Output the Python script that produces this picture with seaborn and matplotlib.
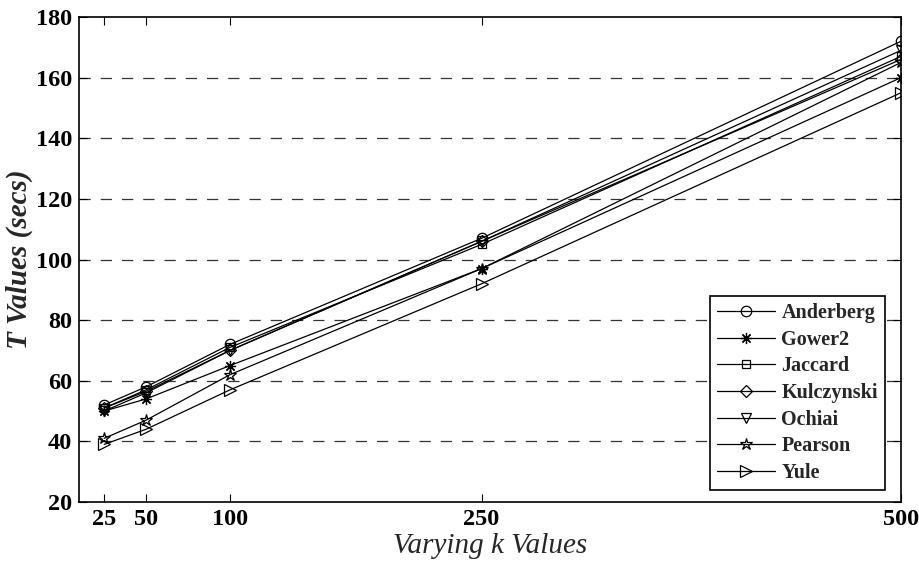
import matplotlib
matplotlib.use("Agg")
import matplotlib.pyplot as plt
import seaborn as sns
import pandas as pd

# Runtime (secs) of each similarity measure for varying k
k_values = [25, 50, 100, 250, 500]
anderberg = [52, 58, 72, 107, 172]
gower2 = [50, 54, 65, 97, 160]
jaccard = [51, 57, 71, 105, 167]
kulczynski = [51, 56.5, 70, 106, 166]
ochiai = [50, 56, 70, 106, 169]
pearson = [41, 47, 62, 97, 165]
yule = [39, 44, 57, 92, 155]

measures = ["Anderberg", "Gower2", "Jaccard", "Kulczynski", "Ochiai", "Pearson", "Yule"]
series = [anderberg, gower2, jaccard, kulczynski, ochiai, pearson, yule]
y_ticks = [20, 40, 60, 80, 100, 120, 140, 160, 180]

rows = []
for name, vals in zip(measures, series):
    for k, v in zip(k_values, vals):
        rows.append({"k": k, "T": v, "measure": name})
df = pd.DataFrame(rows)

sns.set_theme(style="white")
plt.rcParams["font.family"] = ["Liberation Serif", "DejaVu Serif"]

marker_map = {
    "Anderberg": "o",
    "Gower2": (8, 2, 0),
    "Jaccard": "s",
    "Kulczynski": "D",
    "Ochiai": "v",
    "Pearson": "*",
    "Yule": ">",
}
marker_size = {"Anderberg": 7.5, "Gower2": 8, "Jaccard": 6, "Kulczynski": 6,
               "Ochiai": 7.5, "Pearson": 9, "Yule": 8}

W, H = 920, 572
fig = plt.figure(figsize=(W / 100, H / 100), dpi=100)
ax = fig.add_axes([79 / W, (H - 502) / H, (901 - 79) / W, (502 - 17) / H])

sns.lineplot(data=df, x="k", y="T", style="measure", style_order=measures,
             markers=False, dashes=False, color="black", linewidth=0.9,
             legend=False, ax=ax)

# seaborn keeps one Line2D per measure, in style order
for line, name in zip(ax.lines, measures):
    line.set_marker(marker_map[name])
    line.set_markersize(marker_size[name])
    line.set_markerfacecolor("none")
    line.set_markeredgecolor("black")
    line.set_markeredgewidth(0.9)
    line.set_label(name)

ax.set_xlim(10, 500)
ax.set_ylim(20, 180)
ax.set_xticks(k_values)
ax.set_yticks(y_ticks)
ax.set_xticklabels([str(k) for k in k_values], fontsize=17.5, fontweight="bold")
ax.set_yticklabels([str(t) for t in y_ticks], fontsize=17.5, fontweight="bold")
ax.tick_params(direction="in", length=6, width=0.8, top=True, right=True,
               bottom=True, left=True, pad=5, colors="black")

for y in y_ticks[1:-1]:
    ax.axhline(y, color="#333333", linewidth=0.9, linestyle=(0, (9, 8)), zorder=0)

for s in ax.spines.values():
    s.set_color("black")
    s.set_linewidth(1.2)

ax.set_xlabel("Varying k Values", fontsize=21, fontstyle="italic", labelpad=2)
ax.set_ylabel("T Values (secs)", fontsize=21, fontstyle="italic", fontweight="bold", labelpad=2)

leg = ax.legend(handles=list(ax.lines), labels=measures, loc="lower right",
                bbox_to_anchor=(885 / W, (H - 490) / H), bbox_transform=fig.transFigure,
                fontsize=14.5, frameon=True, fancybox=False, framealpha=1,
                edgecolor="black", handlelength=2.9, borderaxespad=0.0,
                labelspacing=0.33, handletextpad=0.3, borderpad=0.35)
leg.get_frame().set_linewidth(1.2)
for t in leg.get_texts():
    t.set_fontweight("bold")

fig.savefig("out.png", dpi=100)
